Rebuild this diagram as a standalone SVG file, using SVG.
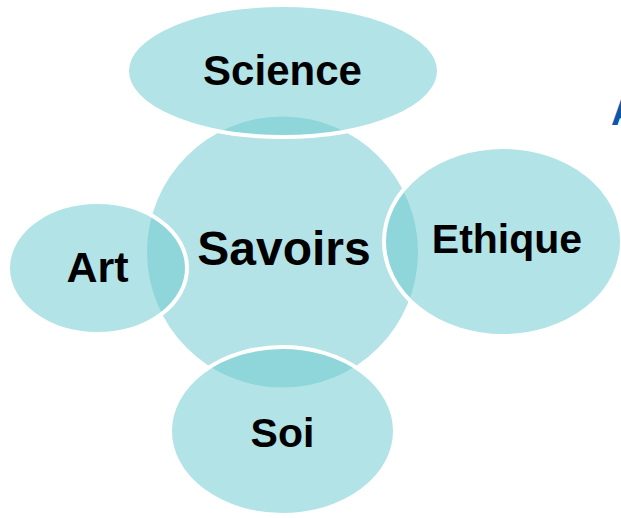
<svg xmlns="http://www.w3.org/2000/svg" width="621" height="518" viewBox="0 0 621 518">
<style>
.hub{fill:#b3e3e6;}
.sat{fill:rgb(110,202,207);fill-opacity:0.53;stroke:#ffffff;stroke-width:4;}
.lbl{font-family:"Liberation Sans",Arial,sans-serif;font-weight:bold;fill:#000000;text-anchor:middle;}
</style>
<rect width="621" height="518" fill="#ffffff"/>
<text x="611" y="125" font-family="Liberation Sans, Arial, sans-serif" font-weight="bold" font-size="38" fill="#0a58a6">A</text>
<g id="savoirs">
<circle class="hub" cx="282.5" cy="252" r="135.5"/>
</g>
<g id="science">
<ellipse class="sat" cx="283" cy="71" rx="156" ry="66"/>
<text class="lbl" x="282.5" y="85" font-size="42">Science</text>
</g>
<g id="ethique">
<ellipse class="sat" cx="503" cy="241.5" rx="119" ry="94.5"/>
<text class="lbl" x="507" y="253" font-size="41">Ethique</text>
</g>
<g id="art">
<ellipse class="sat" cx="97.5" cy="268" rx="89.5" ry="66"/>
<text class="lbl" x="97.5" y="282" font-size="43">Art</text>
</g>
<g id="soi">
<ellipse class="sat" cx="282.5" cy="431" rx="112.5" ry="84"/>
<text class="lbl" x="282.5" y="447" font-size="41">Soi</text>
</g>
<g id="savoirs-label">
<text class="lbl" x="284" y="265" font-size="48">Savoirs</text>
</g>
<g id="connectors"></g>
</svg>
